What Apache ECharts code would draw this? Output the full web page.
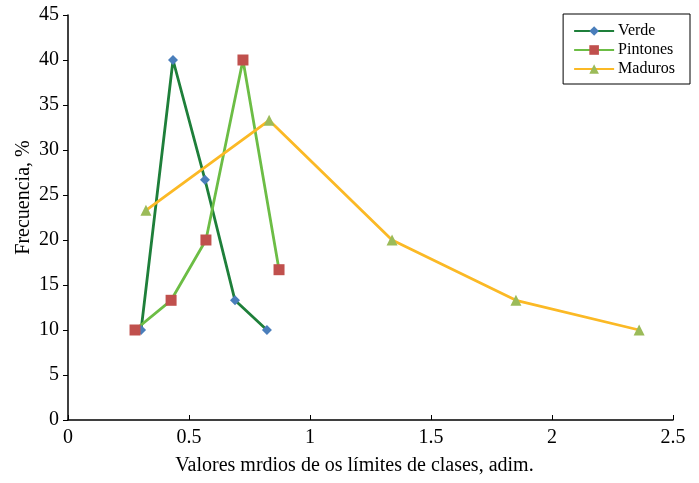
<!DOCTYPE html>
<html><head><meta charset="utf-8">
<script src="https://cdn.jsdelivr.net/npm/echarts@6/dist/echarts.min.js"></script>
<style>html,body{margin:0;padding:0;background:#fff}#c{width:699px;height:483px}</style>
</head><body><div id="c"></div>
<script>
var verdeX = [0.302, 0.434, 0.566, 0.69, 0.822];
var verdeY = [10, 40, 26.7, 13.3, 10];
var pintonesX = [0.277, 0.426, 0.570, 0.723, 0.872];
var pintonesY = [10, 13.3, 20, 40, 16.7];
var madurosX = [0.322, 0.831, 1.339, 1.851, 2.36];
var madurosY = [23.3, 33.3, 20, 13.3, 10];
function pts(xs, ys){ return xs.map(function(x,i){ return [x, ys[i]]; }); }
var font = '"Liberation Serif","Times New Roman",serif';
var chart = echarts.init(document.getElementById('c'));
chart.setOption({
  animation:false,
  textStyle:{fontFamily:font},
  grid:{left:68,right:26,top:15,bottom:63,containLabel:false},
  legend:{
    orient:'vertical', right:9, top:14, padding:[9,15,7,10], itemGap:3,
    borderColor:'#000', borderWidth:1, itemWidth:40, itemHeight:12,
    textStyle:{fontFamily:font,fontSize:16,color:'#000',padding:[0,0,0,-1]},
    data:['Verde','Pintones','Maduros']
  },
  xAxis:{
    type:'value', min:0, max:2.5, interval:0.5,
    name:'Valores mrdios de os límites de clases, adim.', nameLocation:'middle', nameGap:36,
    nameTextStyle:{fontFamily:font,fontSize:20,color:'#000',padding:[0,32,0,0]},
    axisLine:{lineStyle:{color:'#000',width:1.5}},
    axisTick:{inside:true,length:5,lineStyle:{color:'#000'}},
    axisLabel:{fontFamily:font,fontSize:20,color:'#000',margin:8},
    splitLine:{show:false}
  },
  yAxis:{
    type:'value', min:0, max:45, interval:5,
    name:'Frecuencia, %', nameLocation:'middle', nameGap:34, nameMoveOverlap:false,
    nameTextStyle:{fontFamily:font,fontSize:20,color:'#000',padding:[0,0,0,40]},
    axisLine:{show:true,lineStyle:{color:'#000',width:1.5}},
    axisTick:{show:true,inside:false,length:5,lineStyle:{color:'#000'}},
    axisLabel:{fontFamily:font,fontSize:20,color:'#000',margin:9},
    splitLine:{show:false}
  },
  series:[
    {name:'Verde',type:'line',data:pts(verdeX,verdeY),symbol:'diamond',symbolSize:10,
     lineStyle:{color:'#1e7f3a',width:2.8},itemStyle:{color:'#4a7ebb'}},
    {name:'Pintones',type:'line',data:pts(pintonesX,pintonesY),symbol:'rect',symbolSize:11,
     lineStyle:{color:'#6cbd45',width:2.8},itemStyle:{color:'#c0504d'}},
    {name:'Maduros',type:'line',data:pts(madurosX,madurosY),symbol:'triangle',symbolSize:11,
     lineStyle:{color:'#fbb925',width:2.8},itemStyle:{color:'#9bbb59'}}
  ]
});
</script></body></html>
